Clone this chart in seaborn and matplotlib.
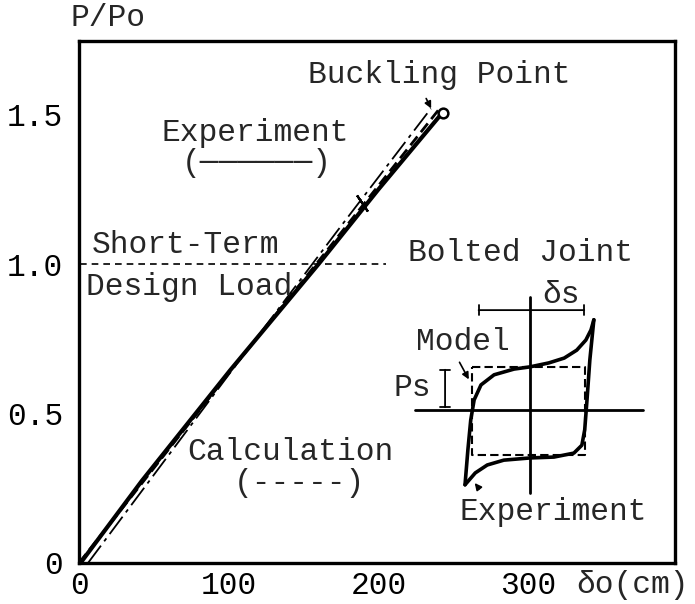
import numpy as np
import matplotlib
matplotlib.use("Agg")
import matplotlib.pyplot as plt
import seaborn as sns
import pandas as pd

# main load-deflection curves (delta_o in cm, P/Po)
exp_x = [1, 42, 101, 160, 200, 242]
exp_y = [0.0, 0.275, 0.645, 1.0, 1.25, 1.502]
calc_x = [0, 100, 160, 240]
calc_y = [0.0, 0.635, 1.01, 1.515]
chain_x = [6, 100, 173, 235]
chain_y = [0.0, 0.63, 1.114, 1.52]
buckle_x = [243]
buckle_y = [1.505]
mark_x = [189]
mark_y = [1.205]
design_load = 1.0
design_x = [1, 205]

x_ticks = [0, 100, 200, 300]
y_ticks = [0, 0.5, 1.0, 1.5]
y_ticklabels = ["0", "0.5", "1.0", "1.5"]

# bolted joint hysteresis sketch (normalised units)
loop_up_x = [-1.14, -1.09, -1.04, -0.98, -0.86, -0.63, -0.28, 0.0, 0.33, 0.60, 0.82, 0.98, 1.07, 1.12]
loop_up_y = [-1.70, -0.91, -0.23, 0.23, 0.57, 0.80, 0.93, 0.98, 1.07, 1.18, 1.36, 1.59, 1.82, 2.05]
loop_dn_x = [1.12, 1.05, 1.00, 0.96, 0.91, 0.77, 0.42, 0.0, -0.46, -0.75, -0.96, -1.14]
loop_dn_y = [2.05, 1.14, 0.23, -0.45, -0.80, -0.98, -1.07, -1.09, -1.14, -1.25, -1.43, -1.70]
model_x = [-1.02, 0.965, 0.965, -1.02, -1.02]
model_y = [0.977, 0.977, -1.02, -1.02, 0.977]

sns.set_theme(style="white")
plt.rcParams['font.family'] = ['Liberation Mono', 'DejaVu Sans Mono']
FS = 22.5

fig = plt.figure(figsize=(6.95, 6.04), dpi=100)
ax = fig.add_axes([79 / 695, 1 - 563 / 604, 596 / 695, 522 / 604])

exp_df = pd.DataFrame({'d': exp_x, 'p': exp_y})
calc_df = pd.DataFrame({'d': calc_x, 'p': calc_y})
chain_df = pd.DataFrame({'d': chain_x, 'p': chain_y})

sns.lineplot(data=chain_df, x='d', y='p', ax=ax, color='black', lw=1.3,
             linestyle=(0, (12, 3, 2, 3)), sort=False)
sns.lineplot(data=exp_df, x='d', y='p', ax=ax, color='black', lw=3.0, sort=False)
sns.lineplot(data=calc_df, x='d', y='p', ax=ax, color='black', lw=2.0,
             linestyle=(0, (4, 2)), sort=False)
ax.plot(buckle_x, buckle_y, 'o', mfc='white', mec='black', ms=7, mew=1.8)
ax.plot(mark_x, mark_y, marker=(2, 2, 34), color='black', ms=14, mew=1.6, ls='none')
ax.plot(design_x, [design_load, design_load], color='black', lw=1.2, ls=(0, (4, 3)))

ax.set_xlim(0, 398)
ax.set_ylim(0, 1.746)
ax.set_xticks(x_ticks)
ax.set_xticklabels([str(t) for t in x_ticks])
ax.set_yticks(y_ticks)
ax.set_yticklabels(y_ticklabels)
ax.set_xlabel('')
ax.set_ylabel('')
ax.tick_params(axis='both', direction='inout', length=15, width=1.8,
               color='black', labelsize=FS, labelcolor='black')
ax.tick_params(axis='x', pad=-2)
ax.tick_params(axis='y', pad=4)
for s in ax.spines.values():
    s.set_visible(True)
    s.set_color('black')
    s.set_linewidth(2.4)

# annotations
ax.text(240.5, 1.632, 'Buckling Point', fontsize=FS, ha='center', va='center')
ax.annotate('', xy=(236, 1.512), xytext=(231, 1.562),
            arrowprops=dict(arrowstyle='-|>', color='black', lw=1.2, mutation_scale=10))
ax.text(118, 1.438, 'Experiment', fontsize=FS, ha='center', va='center')
ax.text(119, 1.338, '(\u2500\u2500\u2500\u2500\u2500\u2500)', fontsize=FS, ha='center', va='center')
ax.text(70.8, 1.064, 'Short-Term', fontsize=FS, ha='center', va='center')
ax.text(73.5, 0.923, 'Design Load', fontsize=FS, ha='center', va='center')
ax.text(295, 1.037, 'Bolted Joint', fontsize=FS, ha='center', va='center')
ax.text(141, 0.371, 'Calculation', fontsize=FS, ha='center', va='center')
ax.text(147, 0.268, '(-----)', fontsize=FS, ha='center', va='center')
ax.text(19.4, 1.823, 'P/Po', fontsize=FS, ha='center', va='center')
ax.text(369.5, -0.075, '\u03b4o(cm)', fontsize=FS, ha='center', va='center')

# inset: bolted joint hysteresis (px box x 412..660, y 285..525)
ins = ax.inset_axes([(412 - 79) / 596, (563 - 525) / 522, 248 / 596, 240 / 522])
ins.set_xlim((412 - 530) / 57, (660 - 530) / 57)
ins.set_ylim(-2.614, 2.841)
ins.axis('off')
ins.plot([-2.02, 1.98], [0, 0], color='black', lw=2.0, clip_on=False)
ins.plot([0, 0], [-1.89, 2.57], color='black', lw=2.0)
ins.plot(model_x, model_y, color='black', lw=1.5, ls=(0, (4, 2)))
sns.lineplot(x=loop_up_x, y=loop_up_y, ax=ins, color='black', lw=2.6, sort=False)
sns.lineplot(x=loop_dn_x, y=loop_dn_y, ax=ins, color='black', lw=2.6, sort=False)
ins.set_xlabel('')
ins.set_ylabel('')
ins.annotate('', xy=(-1.49, 0.0), xytext=(-1.49, 0.977),
             arrowprops=dict(arrowstyle='|-|,widthA=0.3,widthB=0.3', color='black', lw=1.3))
ins.annotate('', xy=(-0.95, 2.27), xytext=(1.0, 2.27),
             arrowprops=dict(arrowstyle='|-|,widthA=0.3,widthB=0.3', color='black', lw=1.3))
ins.text(-1.175, 1.545, 'Model', fontsize=FS, ha='center', va='center')
ins.text(-2.07, 0.5, 'Ps', fontsize=FS, ha='center', va='center')
ins.text(0.544, 2.61, '\u03b4s', fontsize=FS, ha='center', va='center')
ins.text(0.40, -2.32, 'Experiment', fontsize=FS, ha='center', va='center')
ins.annotate('', xy=(-1.05, 0.64), xytext=(-1.26, 1.14),
             arrowprops=dict(arrowstyle='-|>', color='black', lw=1.2, mutation_scale=10))
ins.annotate('', xy=(-1.0, -1.61), xytext=(-0.86, -1.84),
             arrowprops=dict(arrowstyle='-|>', color='black', lw=1.2, mutation_scale=10))

fig.savefig('out.png', dpi=100)
